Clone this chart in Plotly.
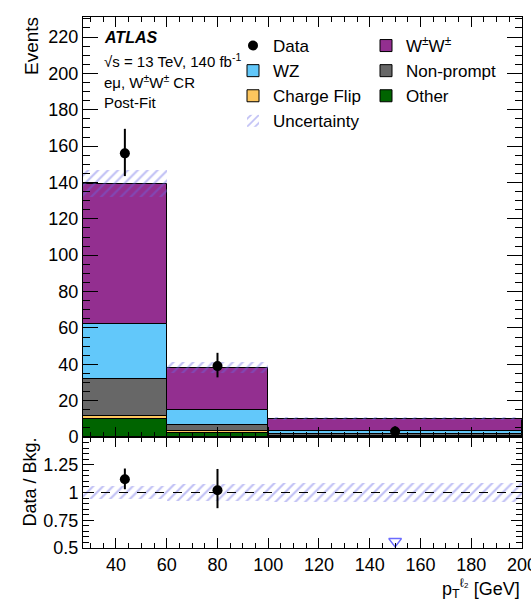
import numpy as np
import plotly.graph_objects as go

# ---------------- data ----------------
bin_edges = [27, 60, 100, 200]
other = [10.0, 2.2, 0.6]
charge_flip = [1.6, 1.2, 0.2]
nonprompt = [20.5, 3.0, 0.6]
wz = [30.0, 8.6, 2.0]
ww = [77.3, 23.2, 6.7]
bkg_unc = [7.6, 2.9, 0.9]
data = [156, 39, 3]
data_err_up = [13.5, 7.3, 2.9]
data_err_down = [12.5, 6.2, 1.6]

x_ticks = [40, 60, 80, 100, 120, 140, 160, 180, 200]
ratio_ticks = [0.5, 0.75, 1, 1.25]
ratio_ticktext = ["0.5", "0.75", "1", "1.25"]

# ---------------- derived ----------------
edges = np.array(bin_edges, float)
centers = 0.5 * (edges[:-1] + edges[1:])
widths = np.diff(edges)

components = [
    ("Other", other, "#006400", "legend2", 3),
    ("Charge Flip", charge_flip, "#fdc65e", "legend", 3),
    ("Non-prompt", nonprompt, "#676767", "legend2", 2),
    ("WZ", wz, "#62c8fa", "legend", 2),
    ("W<sup>±</sup>W<sup>±</sup>", ww, "#932f90", "legend2", 1),
]

FONT = "Liberation Sans, Arial, Helvetica, sans-serif"
HATCH = "rgba(105,105,230,0.85)"
PATTERN = dict(shape="/", fgcolor=HATCH, bgcolor="rgba(0,0,0,0)",
               size=7, solidity=0.3, fillmode="overlay")

fig = go.Figure()

base = np.zeros(len(centers))
for name, vals, col, leg, rank in components:
    v = np.array(vals, float)
    fig.add_trace(go.Bar(
        x=centers, y=v, base=base, width=widths, name=name,
        marker=dict(color=col, line=dict(color="black", width=1)),
        legend=leg, legendrank=rank, xaxis="x", yaxis="y",
        hoverinfo="skip"))
    base = base + v
total = base

unc = np.array(bkg_unc, float)
fig.add_trace(go.Bar(
    x=centers, y=2 * unc, base=total - unc, width=widths, name="Uncertainty",
    marker=dict(color="rgba(0,0,0,0)", line=dict(width=0), pattern=PATTERN),
    legend="legend", legendrank=4, xaxis="x", yaxis="y", hoverinfo="skip"))

d = np.array(data, float)
fig.add_trace(go.Scatter(
    x=centers, y=d, mode="markers", name="Data",
    marker=dict(color="black", size=10),
    error_y=dict(type="data", symmetric=False, array=data_err_up,
                 arrayminus=data_err_down, color="black", thickness=2, width=0),
    legend="legend", legendrank=1, xaxis="x", yaxis="y"))

# ---------------- ratio panel ----------------
rel = unc / total
fig.add_trace(go.Bar(
    x=centers, y=2 * rel, base=1 - rel, width=widths, showlegend=False,
    marker=dict(color="rgba(0,0,0,0)", line=dict(width=0), pattern=PATTERN),
    xaxis="x2", yaxis="y2", hoverinfo="skip"))

ratio = d / total
r_up = np.array(data_err_up) / total
r_dn = np.array(data_err_down) / total
ymin_ratio = 0.5
inside = ratio >= ymin_ratio
fig.add_trace(go.Scatter(
    x=centers[inside], y=ratio[inside], mode="markers", showlegend=False,
    marker=dict(color="black", size=10),
    error_y=dict(type="data", symmetric=False, array=r_up[inside],
                 arrayminus=r_dn[inside], color="black", thickness=2, width=0),
    xaxis="x2", yaxis="y2"))
fig.add_trace(go.Scatter(
    x=centers[~inside], y=np.full((~inside).sum(), ymin_ratio + 0.06),
    mode="markers", showlegend=False,
    marker=dict(symbol="triangle-down-open", color="#6b6bff", size=11,
                line=dict(width=1.5, color="#6b6bff")),
    xaxis="x2", yaxis="y2"))

fig.add_shape(type="line", xref="x2", yref="y2", x0=bin_edges[0], x1=bin_edges[-1],
              y0=1, y1=1, line=dict(color="black", width=1, dash="dash"))

# ---------------- layout ----------------
L, R, T, B = 83, 9, 17, 55
W, H = 531, 603
ph = H - T - B
split = (H - B - 437) / ph

def px_x(px):
    return (px - L) / (W - L - R)

def px_y(py):
    return (H - B - py) / ph

axis_common = dict(showline=True, linecolor="black", linewidth=1, mirror="allticks",
                   ticks="inside", tickcolor="black", showgrid=False, zeroline=False,
                   automargin=False, ticklabeloverflow="allow",
                   tickfont=dict(family=FONT, size=18, color="black"))

fig.update_layout(
    width=W, height=H, margin=dict(l=L, r=R, t=T, b=B, autoexpand=False),
    paper_bgcolor="white", plot_bgcolor="white",
    barmode="overlay", bargap=0,
    font=dict(family=FONT, color="black"),
    xaxis=dict(axis_common, domain=[0, 1], anchor="y", range=[bin_edges[0], bin_edges[-1]],
               tickvals=x_ticks, showticklabels=False, matches="x2", ticklen=10,
               minor=dict(ticks="inside", dtick=5, tick0=0, ticklen=5, tickcolor="black")),
    yaxis=dict(axis_common, domain=[split, 1], anchor="x", range=[0, 231],
               dtick=20, tick0=0, ticklen=15,
               minor=dict(ticks="inside", dtick=5, tick0=0, ticklen=7, tickcolor="black")),
    xaxis2=dict(axis_common, domain=[0, 1], anchor="y2", range=[bin_edges[0], bin_edges[-1]],
                tickvals=x_ticks, ticklen=10,
                minor=dict(ticks="inside", dtick=5, tick0=0, ticklen=5, tickcolor="black")),
    yaxis2=dict(axis_common, domain=[0, split], anchor="x2", range=[0.5, 1.5],
                tickvals=ratio_ticks, ticktext=ratio_ticktext, ticklen=11,
                minor=dict(ticks="inside", dtick=0.05, tick0=0.5, ticklen=6, tickcolor="black")),
    legend=dict(x=px_x(233), y=px_y(28), xanchor="left", yanchor="top",
                bgcolor="rgba(0,0,0,0)", traceorder="normal", itemwidth=30,
                font=dict(family=FONT, size=17, color="black")),
    legend2=dict(x=px_x(366), y=px_y(28), xanchor="left", yanchor="top",
                 bgcolor="rgba(0,0,0,0)", traceorder="normal", itemwidth=30,
                 font=dict(family=FONT, size=17, color="black")),
)

ann = []
def add_text(text, px, py, size, xanchor="left", yanchor="middle", angle=0):
    ann.append(dict(text=text, x=px_x(px), y=px_y(py), xref="paper", yref="paper",
                    xanchor=xanchor, yanchor=yanchor, showarrow=False, textangle=angle,
                    font=dict(family=FONT, size=size, color="black")))

add_text("<b><i>ATLAS</i></b>", 102, 38, 16)
add_text("√s = 13 TeV, 140 fb<sup>-1</sup>", 102, 61, 15)
add_text("eμ, W<sup>±</sup>W<sup>±</sup> CR", 102, 81, 15)
add_text("Post-Fit", 102, 102, 15)
add_text("Events", 32, 15, 19, xanchor="center", yanchor="top", angle=-90)
add_text("Data / Bkg.", 29, 436, 18, xanchor="center", yanchor="top", angle=-90)
add_text("p<sub>T</sub><sup>ℓ₂</sup> [GeV]", 522, 588, 18, xanchor="right")
fig.update_layout(annotations=ann)

fig.write_html("out.html")
